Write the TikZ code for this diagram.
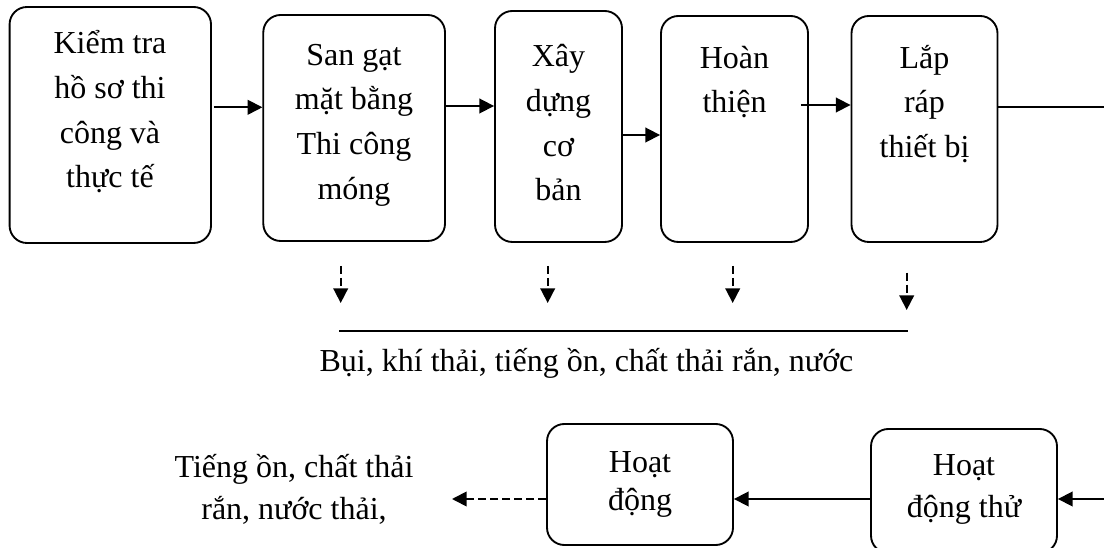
\documentclass[tikz,border=0pt]{standalone}
\usepackage{fontspec}
\setmainfont{Liberation Serif}
\usetikzlibrary{arrows.meta,fit}

\tikzset{
  blk/.style={draw, line width=1.4pt, rounded corners=13pt, inner sep=0pt},
  txt/.style={align=center, anchor=north, inner sep=0pt, font=\fontsize{24}{33.5}\selectfont},
  arr/.style={line width=1.3pt, -{Triangle[length=11pt,width=11pt]}},
  darr/.style={arr, dash pattern=on 6pt off 3pt}
}

\begin{document}
\begin{tikzpicture}[x=0.75pt, y=-0.75pt]
\useasboundingbox (0,0) rectangle (1104,548);
\clip (0,0) rectangle (1104,548);
% top row
\node[blk, fit={(9.6,7) (211,243)}] (b1) {};
\node[blk, fit={(263.3,15) (445,241)}] (b2) {};
\node[blk, fit={(495,11) (622,242)}] (b3) {};
\node[blk, fit={(661,16) (808,242)}] (b4) {};
\node[blk, fit={(851.5,16) (997.5,242)}] (b5) {};
\node[txt] (t1) at (110,22.3) {\strut Kiểm tra\\hồ sơ thi\\công và\\thực tế};
\node[txt] (t2) at (354,33.7) {\strut San gạt\\mặt bằng\\Thi công\\móng};
\node[txt] (t3) at (558.5,35.2) {\strut Xây\\dựng\\cơ\\bản};
\node[txt] (t4) at (734.5,36.7) {\strut Hoàn\\thiện};
\node[txt] (t5) at (924.5,36.7) {\strut Lắp\\ráp\\thiết bị};
% bottom row
\node[blk, fit={(547,424) (733,545)}] (b7) {};
\node[blk, fit={(871,429) (1057,553)}] (b8) {};
\node[txt, font=\fontsize{24}{29}\selectfont] (t7) at (640,444.9) {\strut Hoạt\\động};
\node[txt, font=\fontsize{24}{32}\selectfont] (t8) at (964,445.1) {\strut Hoạt\\động thử};
\node[txt, font=\fontsize{24}{32}\selectfont] (t9) at (294,447.1) {\strut Tiếng ồn, chất thải\\rắn, nước thải,};
\node[txt, anchor=base] (t10) at (586.5,372) {Bụi, khí thải, tiếng ồn, chất thải rắn, nước};

\coordinate (lv1) at (0,107.3);
\coordinate (lv2) at (0,106);
\coordinate (lv3) at (0,135);
\coordinate (lv4) at (0,105);
\coordinate (rt) at (1112,107);
\coordinate (lvb) at (0,499);
\coordinate (tip) at (452,499);

\draw[arr, shorten <=1.5pt] (b1.east |- lv1) -- (b2.west |- lv1);
\draw[arr] (b2.east |- lv2) -- (b3.west |- lv2);
\draw[arr] (b3.east |- lv3) -- (b4.west |- lv3);
\draw[arr, shorten <=-6pt] (b4.east |- lv4) -- (b5.west |- lv4);
\draw[arr] (b5.east |- rt) -- (rt) -- (rt |- lvb) -- (b8.east |- lvb);
\draw[arr] (b8.west |- lvb) -- (b7.east |- lvb);
\draw[darr] (b7.west |- lvb) -- (tip);

% emissions
\foreach \n/\x/\ya/\yb in {1/340.7/266/303, 2/547.7/266/303, 3/732.7/266/303, 4/906.7/272.7/310} {
  \coordinate (s\n) at (\x,\ya);
  \coordinate (e\n) at (\x,\yb);
  \draw[darr] (s\n) -- (e\n);
}
\coordinate (la) at (339,331);
\coordinate (lb) at (908.3,331);
\draw[line width=1.3pt] (la) -- (lb);
\end{tikzpicture}
\end{document}
